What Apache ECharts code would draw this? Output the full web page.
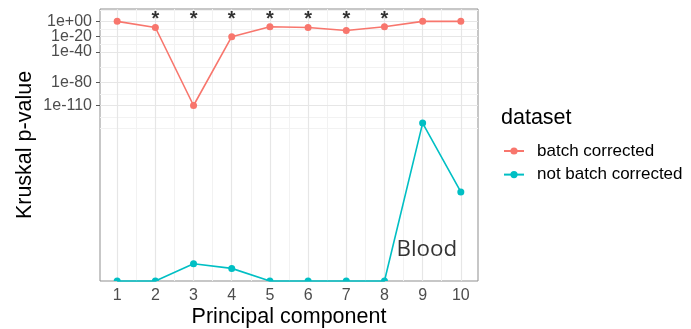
<!DOCTYPE html>
<html>
<head>
<meta charset="utf-8">
<script src="https://cdn.jsdelivr.net/npm/echarts@6/dist/echarts.min.js"></script>
<style>
  html, body { margin: 0; padding: 0; background: #fff; }
  #chart { width: 691px; height: 329px; }
</style>
</head>
<body>
<div id="chart"></div>
<script>
// Principal components 1..10
const components = [1, 2, 3, 4, 5, 6, 7, 8, 9, 10];

// Kruskal-Wallis p-values as log10 exponents (-Infinity means p = 0)
const batchCorrected    = [0, -8, -110, -20, -7, -8, -12, -7, 0, 0];
const notBatchCorrected = [-Infinity, -Infinity, -317, -323, -Infinity, -Infinity, -Infinity, -Infinity, -133, -223];

// Significance marks drawn above each component
const sigMarks = ['', '*', '*', '*', '*', '*', '*', '*', '', ''];

// Axis breaks (log10 exponents) and grid positions
const yBreaks = [0, -20, -40, -80, -110];
const yMinor  = [15, -10, -30, -60, -95, -125, -140];
const xMinor  = [1.5, 2.5, 3.5, 4.5, 5.5, 6.5, 7.5, 8.5, 9.5];

const seriesNames = ['batch corrected', 'not batch corrected'];
const colors = ['#F8766D', '#00BFC4'];

const Y_MIN = -339.5, Y_MAX = 16.17;
const X_MIN = 0.55, X_MAX = 10.45;
const STAR_Y = 2.3;

function expLabel(v) {
  const a = Math.abs(v);
  return '1e' + (v < 0 ? '-' : '+') + (a < 10 ? '0' + a : String(a));
}

// p = 0 sits on the panel floor, drawn as a half dot
const HALF_DOT = 'path://M0,1 A1,1 0 0 1 2,1 Z';
function toPoints(vals) {
  return vals.map((v, i) => {
    if (v === -Infinity) {
      return { value: [components[i], Y_MIN], symbol: HALF_DOT, symbolSize: [7, 3.5], symbolOffset: [0, '-50%'] };
    }
    return { value: [components[i], v] };
  });
}

const major = '#e6e6e6', minor = '#f2f2f2';
const gridLines = []
  .concat(xMinor.map(v => ({ xAxis: v, lineStyle: { color: minor, width: 1, type: 'solid' } })))
  .concat(yMinor.map(v => ({ yAxis: v, lineStyle: { color: minor, width: 1, type: 'solid' } })))
  .concat(components.map(v => ({ xAxis: v, lineStyle: { color: major, width: 1.2, type: 'solid' } })))
  .concat(yBreaks.map(v => ({ yAxis: v, lineStyle: { color: major, width: 1.2, type: 'solid' } })));

const font = '"Liberation Sans", Arial, sans-serif';

function lineSeries(idx, vals) {
  return {
    name: seriesNames[idx],
    type: 'line',
    data: toPoints(vals),
    symbol: 'circle',
    symbolSize: 7,
    showAllSymbol: true,
    clip: false,
    z: 3,
    lineStyle: { color: colors[idx], width: 1.6 },
    itemStyle: { color: colors[idx], borderWidth: 0, opacity: 1 },
    emphasis: { disabled: true },
    animation: false
  };
}

// The closely spaced y breaks are split over two overlaid axes so no label is dropped
function yAxisFor(breaks, withName) {
  return {
    type: 'value',
    position: 'left',
    min: Y_MIN, max: Y_MAX,
    name: withName ? 'Kruskal p-value' : '',
    nameLocation: 'middle',
    nameGap: 64,
    nameMoveOverlap: false,
    nameTextStyle: { fontFamily: font, fontSize: 21.5, color: '#000' },
    axisLine: { show: false },
    splitLine: { show: false },
    axisTick: { show: true, customValues: breaks, length: 4, lineStyle: { color: '#555', width: 1 } },
    axisLabel: {
      customValues: breaks, fontSize: 16, color: '#4d4d4d', margin: 8, fontFamily: font,
      formatter: expLabel, hideOverlap: false
    }
  };
}

const plainLabel = { textBorderWidth: 0, textShadowBlur: 0 };

const chart = echarts.init(document.getElementById('chart'), null, { renderer: 'canvas' });
chart.setOption({
  backgroundColor: '#fff',
  animation: false,
  textStyle: { fontFamily: font },
  title: {
    text: 'dataset',
    left: 501,
    top: 107.5,
    padding: 0,
    textStyle: { fontFamily: font, fontSize: 21.5, fontWeight: 'normal', color: '#000' }
  },
  legend: {
    data: seriesNames,
    orient: 'vertical',
    left: 503,
    top: 142.5,
    padding: 0,
    itemWidth: 20,
    itemHeight: 9,
    itemGap: 6.6,
    textStyle: { fontFamily: font, fontSize: 17, color: '#000', padding: [0, 0, 0, 8] },
    selectedMode: false
  },
  grid: {
    left: 100, top: 9, width: 378, height: 272,
    outerBoundsMode: 'none',
    containLabel: false,
    show: true, borderColor: '#8f8f8f', borderWidth: 1, backgroundColor: '#fff'
  },
  xAxis: {
    type: 'value',
    min: X_MIN, max: X_MAX,
    name: 'Principal component',
    nameLocation: 'middle',
    nameGap: 25,
    nameMoveOverlap: false,
    nameTextStyle: { fontFamily: font, fontSize: 21.5, color: '#000' },
    axisLine: { show: false },
    splitLine: { show: false },
    axisTick: { show: true, customValues: components, length: 4, lineStyle: { color: '#555', width: 1 } },
    axisLabel: {
      customValues: components, fontSize: 16, color: '#4d4d4d', margin: 7, fontFamily: font,
      hideOverlap: false
    }
  },
  yAxis: [
    yAxisFor(yBreaks.filter((v, i) => i % 2 === 1), true),
    yAxisFor(yBreaks.filter((v, i) => i % 2 === 0), false)
  ],
  series: [
    {
      name: 'grid',
      type: 'line',
      data: [],
      z: 1,
      silent: true,
      markLine: {
        z: 1,
        silent: true, symbol: ['none', 'none'], label: { show: false }, animation: false,
        lineStyle: { type: 'solid' },
        emphasis: { disabled: true },
        data: gridLines
      }
    },
    lineSeries(0, batchCorrected),
    lineSeries(1, notBatchCorrected),
    {
      name: 'marks',
      type: 'scatter',
      z: 4,
      symbolSize: 1,
      itemStyle: { color: 'rgba(0,0,0,0)' },
      silent: true,
      data: sigMarks.map((m, i) => m ? { value: [components[i], STAR_Y], mark: m } : null).filter(Boolean),
      label: Object.assign({
        show: true, position: 'inside',
        formatter: p => p.data.mark,
        fontFamily: font, fontSize: 20, fontWeight: 'bold', color: '#000'
      }, plainLabel)
    },
    {
      name: 'annotation',
      type: 'scatter',
      z: 4,
      symbolSize: 1,
      itemStyle: { color: 'rgba(0,0,0,0)' },
      silent: true,
      data: [{ value: [9.11, -298], text: 'Blood' }],
      label: Object.assign({
        show: true, position: 'inside',
        formatter: p => p.data.text,
        fontFamily: '"Open Sans", sans-serif', fontSize: 22.4, color: '#000'
      }, plainLabel)
    }
  ]
});
</script>
</body>
</html>
